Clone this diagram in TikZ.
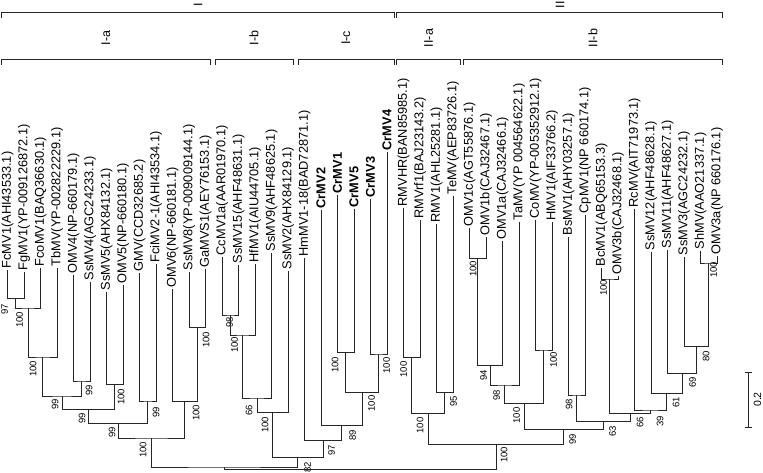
\documentclass[tikz,border=0pt]{standalone}
\usepackage{fontspec}
\setmainfont{Liberation Sans}
\usetikzlibrary{calc}

\tikzset{
  leaf/.style={rotate=90, anchor=west, inner xsep=1.5pt, inner ysep=0pt, font=\fontsize{12.8}{13}\selectfont},
  boot/.style={rotate=90, inner sep=0pt, font=\fontsize{9.5}{10}\selectfont},
  branch/.style={line width=0.8pt, black!85},
  brk/.style={line width=0.8pt, black!85},
  grp/.style={rotate=90, inner sep=0pt, font=\fontsize{12.5}{13}\selectfont}
}

% join two children at height #4 (y downwards)
\newcommand{\cladeonly}[4]{%
  \path let \p1=(#2), \p2=(#3) in coordinate (#1) at ({(\x1+\x2)/2},{-#4pt});
  \draw[branch] (#2) |- (#1) -| (#3);
}
\newcommand{\clade}[6]{%
  \cladeonly{#1}{#2}{#3}{#4}
  \node[boot] (#1b) at (#6) {#5};
}

\begin{document}
\begin{tikzpicture}[x=1pt, y=-1pt]
\useasboundingbox (0,0) rectangle (763,473);

% groups
\draw[brk] (1.7,18) |- (394,12.7) -- (394,18);
\node[grp] (gI) at (198,5) {I};
\draw[brk] (396.7,18) |- (722.7,12.7) -- (722.7,18);
\node[grp] (gII) at (560,5) {II};
\draw[brk] (1.7,65) |- (210.7,59.5) -- (210.7,65);
\node[grp] (gIa) at (106,38) {I-a};
\draw[brk] (215,65) |- (293.3,59.5) -- (293.3,65);
\node[grp] (gIb) at (254,38) {I-b};
\draw[brk] (298.3,65) |- (394,59.5) -- (394,65);
\node[grp] (gIc) at (346,38) {I-c};
\draw[brk] (396.7,65) |- (460.7,59.5) -- (460.7,65);
\node[grp] (gIIa) at (428.7,38) {II-a};
\draw[brk] (463.3,65) |- (722.7,59.5) -- (722.7,65);
\node[grp] (gIIb) at (593,38) {II-b};

% leaves
\foreach \nm/\tp/\txt [count=\k from 0] in {
  FcMV1/270/{FcMV1(AHI43533.1)}, FgMV1/272/{FgMV1(YP-009126872.1)},
  FcoMV1/268/{FcoMV1(BAQ36630.1)}, TbMV/268/{TbMV(YP-002822229.1)},
  OMV4/275/{OMV4(NP-660179.1)}, SsMV4/282/{SsMV4(AGC24233.1)},
  SsMV5/292/{SsMV5(AHX84132.1)}, OMV5/285/{OMV5(NP-660180.1)},
  GMV/273/{GMV(CCD32685.2)}, FciMV2-1/264/{FciMV2-1(AHI43534.1)},
  OMV6/289/{OMV6(NP-660181.1)}, SsMV8/272/{SsMV8(YP-009009144.1)},
  GaMVS1/269/{GaMVS1(AEY76153.1)}, CcMV1a/257/{CcMV1a(AAR01970.1)},
  SsMV15/265/{SsMV15(AHF48631.1)}, HfMV1/264/{HfMV1(AIU44705.1)},
  SsMV9/253/{SsMV9(AHF48625.1)}, SsMV2/271/{SsMV2(AHX84129.1)},
  HmMV1-18/258/{HmMV1-18(BAD72871.1)}, CrMV2/210/{\bfseries CrMV2},
  CrMV1/195/{\bfseries CrMV1}, CrMV5/209/{\bfseries CrMV5},
  CrMV3/199/{\bfseries CrMV3}, CrMV4/152/{\bfseries CrMV4},
  RMVHR/208/{RMVHR(BAN85985.1)}, RMVrf1/220/{RMVrf1(BAJ23143.2)},
  RMV1/224/{RMV1(AHL25281.1)}, TeMV/196/{TeMV(AEP83726.1)},
  OMV1c/228/{OMV1c(AGT55876.1)}, OMV1b/237/{OMV1b(CAJ32467.1)},
  OMV1a/241/{OMV1a(CAJ32466.1)}, TaMV/222/{TaMV(YP 004564622.1)},
  CoMV/220/{CoMV(YP-005352912.1)}, HMV1/222/{HMV1(AIF33766.2)},
  BsMV1/237/{BsMV1(AHY03257.1)}, CpMV1/215/{CpMV1(NP 660174.1)},
  BcMV1/268/{BcMV1(ABQ65153.3)}, OMV3b/276/{OMV3b(CAJ32468.1)},
  RcMV/209/{RcMV(AIT71973.1)}, SsMV12/252/{SsMV12(AHF48628.1)},
  SsMV11/250/{SsMV11(AHF48627.1)}, SsMV3/257/{SsMV3(AGC24232.1)},
  ShMV/251/{ShMV(AAO21337.1)}, OMV3a/256/{OMV3a(NP 660176.1)}}
  \node[leaf] (\nm) at ({7.5+16.5*\k},\tp) {\txt};

% group I-a
\clade{n1}{FcMV1.west}{FgMV1.west}{298.5}{97}{4.5,309}
\clade{n2}{n1}{FcoMV1.west}{308}{100}{19.5,320}
\clade{n3}{n2}{TbMV.west}{357}{100}{33,369}
\clade{n4}{OMV4.west}{SsMV4.west}{381}{99}{89,390}
\clade{n5}{n3}{n4}{396}{99}{55,404}
\clade{n6}{SsMV5.west}{OMV5.west}{384.3}{100}{121,397}
\clade{n7}{n5}{n6}{409.3}{99}{82,418}
\clade{n8}{GMV.west}{FciMV2-1.west}{401}{99}{156,412}
\clade{n9}{n7}{n8}{423.3}{99}{112,432}
\clade{n10}{SsMV8.west}{GaMVS1.west}{327.5}{100}{206,340}
\clade{n11}{OMV6.west}{n10}{401.5}{100}{196,413}
\clade{n12}{n9}{n11}{438}{100}{143,450}
% group I-b
\clade{n13}{CcMV1a.west}{SsMV15.west}{315}{98}{229.5,322.5}
\clade{n14}{n13}{HfMV1.west}{335}{100}{234.5,345}
\clade{n15}{n14}{SsMV9.west}{398}{66}{249,410}
\clade{n16}{n15}{SsMV2.west}{412.7}{100}{265,425}
% group I-c
\clade{n17}{CrMV1.west}{CrMV5.west}{352.5}{100}{335,365}
\clade{n18}{CrMV3.west}{CrMV4.west}{354}{100}{386.5,365.5}
\clade{n19}{n17}{n18}{392.3}{100}{371.5,403.5}
\clade{n20}{CrMV2.west}{n19}{425.7}{89}{352.5,435}
\clade{n21}{HmMV1-18.west}{n20}{440.7}{97}{331.5,450}
\clade{n22}{n16}{n21}{457.7}{82}{307.5,467}
\cladeonly{n23}{n12}{n22}{467}
% group II-a
\clade{n24}{RMVHR.west}{RMVrf1.west}{357.7}{100}{403.5,369.5}
\clade{n25}{RMV1.west}{TeMV.west}{392.3}{95}{453.5,401}
\clade{n26}{n24}{n25}{413.3}{100}{420,425.5}
% group II-b
\clade{n27}{OMV1c.west}{OMV1b.west}{258.3}{100}{473,269}
\clade{n28}{n27}{OMV1a.west}{365.5}{94}{483.5,375}
\clade{n29}{n28}{TaMV.west}{385}{98}{496.5,395}
\clade{n30}{CoMV.west}{HMV1.west}{350}{100}{553.5,360}
\clade{n31}{n29}{n30}{403.3}{100}{516.5,415.5}
\clade{n32}{BsMV1.west}{CpMV1.west}{395}{98}{569,404}
\clade{n33}{BcMV1.west}{OMV3b.west}{279}{100}{603.5,288}
\clade{n34}{ShMV.west}{OMV3a.west}{263}{100}{713.5,270}
\clade{n35}{SsMV3.west}{n34}{346.7}{80}{706,356}
\clade{n36}{SsMV11.west}{n35}{373.3}{69}{692.5,382.5}
\clade{n37}{SsMV12.west}{n36}{393.3}{61}{676,402.5}
\clade{n38}{RcMV.west}{n37}{410}{39}{660,421}
\clade{n39}{n33}{n38}{413.3}{66}{640,422.5}
\clade{n40}{n32}{n39}{421.7}{63}{612.5,431}
\clade{n41}{n31}{n40}{429.3}{99}{572.5,439}
\clade{n42}{n26}{n41}{444.5}{100}{504,455}
% root
\cladeonly{root}{n23}{n42}{469.5}

% scale bar
\coordinate (sbt) at (748,372);
\coordinate (sbb) at (748,427);
\draw[brk] (sbt) -- (sbb);
\draw[brk] ([xshift=-3.5pt]sbt) -- ([xshift=3.5pt]sbt);
\draw[brk] ([xshift=-3.5pt]sbb) -- ([xshift=3.5pt]sbb);
\node[boot, font=\fontsize{10.5}{11}\selectfont] (sbl) at (757.5,399.5) {0.2};
\end{tikzpicture}
\end{document}
